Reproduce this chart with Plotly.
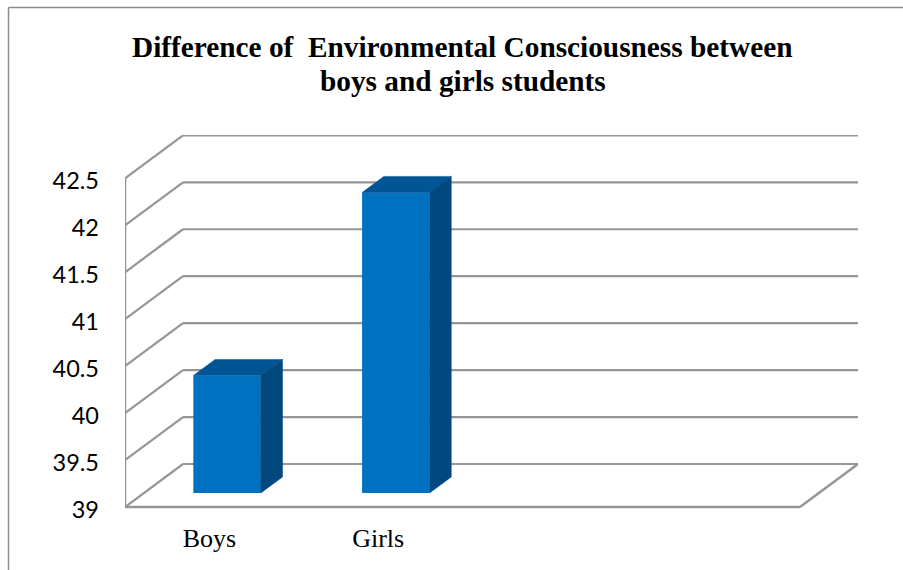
import plotly.graph_objects as go

# Chart values
categories = ["Boys", "Girls"]
scores = [40.25, 42.2]
tick_values = [39, 39.5, 40, 40.5, 41, 41.5, 42, 42.5]
tick_labels = ["39", "39.5", "40", "40.5", "41", "41.5", "42", "42.5"]
title_lines = ["Difference of  Environmental Consciousness between", "boys and girls students"]

# Pseudo-3D geometry, in axis units
AXIS_MIN = 39
SLOTS = 4
PX_PER_SLOT = 168.75
PX_PER_UNIT = 93.9
WALL_DX = 58 / PX_PER_SLOT
WALL_DY = 43 / PX_PER_UNIT
BAR_WIDTH = 0.4
BAR_NUDGE = -1.2 / PX_PER_SLOT
DEPTH_NEAR = 0.326
DEPTH_FAR = 0.70
LABEL_DROP = 2.5 / PX_PER_UNIT

# The plot area runs a little below the floor so the lowest tick label still shows
LEFT, RIGHT, TOP, BOTTOM = 125, 858, 135, 515
AXIS_FLOOR = AXIS_MIN - 8 / PX_PER_UNIT
WIDTH, HEIGHT = 903, 570

GRID = "#969696"
FRONT = "#0070c0"
ROOF = "#005594"
SIDE = "#00487e"


def at_depth(slot, value, depth):
    return slot + WALL_DX * depth, value + WALL_DY * depth


fig = go.Figure()

# Gridlines: sloped floor/side part plus the run across the back wall
shapes = []
for v in tick_values:
    x0, y0 = at_depth(0, v, 0)
    x1, y1 = at_depth(0, v, 1)
    x2, y2 = at_depth(SLOTS, v, 1)
    shapes.append(dict(type="line", layer="below", xref="x", yref="y", x0=x0, y0=y0, x1=x1, y1=y1,
                       line=dict(color=GRID, width=2.2)))
    shapes.append(dict(type="line", layer="below", xref="x", yref="y", x0=x1, y0=y1, x1=x2, y1=y2,
                       line=dict(color=GRID, width=2.2)))

# Left axis, front floor edge and right floor edge
top_tick = tick_values[-1]
for (a, b) in [
    (at_depth(0, AXIS_MIN, 0), at_depth(0, top_tick, 0)),
    (at_depth(0, AXIS_MIN, 0), at_depth(SLOTS, AXIS_MIN, 0)),
    (at_depth(SLOTS, AXIS_MIN, 0), at_depth(SLOTS, AXIS_MIN, 1)),
]:
    shapes.append(dict(type="line", layer="below", xref="x", yref="y", x0=a[0], y0=a[1], x1=b[0], y1=b[1],
                       line=dict(color=GRID, width=2.5)))

# Outer chart border, open on the right and at the bottom
for x0, y0, x1, y1 in [(8.5, 7.5, 8.5, 570), (8.5, 7.5, 903, 7.5)]:
    shapes.append(dict(type="line", xref="paper", yref="paper",
                       x0=(x0 - LEFT) / (RIGHT - LEFT), x1=(x1 - LEFT) / (RIGHT - LEFT),
                       y0=(BOTTOM - y0) / (BOTTOM - TOP), y1=(BOTTOM - y1) / (BOTTOM - TOP),
                       line=dict(color="#8c8c8c", width=1.5)))

# Front faces of the columns
slots = [i + 0.5 for i in range(len(categories))]
bar_slots = [s + BAR_NUDGE for s in slots]
near_dx = WALL_DX * DEPTH_NEAR
near_dy = WALL_DY * DEPTH_NEAR
fig.add_trace(go.Bar(
    x=[s + near_dx for s in bar_slots],
    y=[v - AXIS_MIN for v in scores],
    base=AXIS_MIN + near_dy,
    width=BAR_WIDTH,
    marker=dict(color=FRONT, line=dict(width=0)),
    hoverinfo="skip",
    showlegend=False,
))

# Roof and side faces of the columns
for s, v in zip(bar_slots, scores):
    l, r = s - BAR_WIDTH / 2, s + BAR_WIDTH / 2
    roof = [at_depth(l, v, DEPTH_NEAR), at_depth(r, v, DEPTH_NEAR), at_depth(r, v, DEPTH_FAR), at_depth(l, v, DEPTH_FAR)]
    side = [at_depth(r, AXIS_MIN, DEPTH_NEAR), at_depth(r, v, DEPTH_NEAR), at_depth(r, v, DEPTH_FAR), at_depth(r, AXIS_MIN, DEPTH_FAR)]
    for poly, colour in ((roof, ROOF), (side, SIDE)):
        fig.add_trace(go.Scatter(
            x=[p[0] for p in poly] + [poly[0][0]],
            y=[p[1] for p in poly] + [poly[0][1]],
            mode="lines", fill="toself", fillcolor=colour,
            line=dict(color=colour, width=0.5),
            hoverinfo="skip", showlegend=False,
        ))

# Title lines sit closer together than the default line height allows
title_font = dict(family="Liberation Serif", size=29.3, color="black")
title_notes = [
    dict(text="<b>%s</b>" % line, xref="paper", yref="paper", showarrow=False,
         x=(462.5 - LEFT) / (RIGHT - LEFT), y=(BOTTOM - mid) / (BOTTOM - TOP),
         xanchor="center", yanchor="middle", font=title_font)
    for line, mid in zip(title_lines, (46.5, 80.5))
]

fig.update_layout(
    width=WIDTH, height=HEIGHT,
    margin=dict(l=LEFT, r=WIDTH - RIGHT, t=TOP, b=HEIGHT - BOTTOM, autoexpand=False),
    paper_bgcolor="white", plot_bgcolor="rgba(0,0,0,0)",
    shapes=shapes,
    annotations=title_notes,
    xaxis=dict(
        range=[0, (RIGHT - LEFT) / PX_PER_SLOT],
        tickmode="array", tickvals=slots, ticktext=categories,
        showgrid=False, zeroline=False, showline=False,
        ticks="", ticklabelstandoff=5,
        tickfont=dict(family="Liberation Serif", size=26, color="black"),
    ),
    yaxis=dict(
        range=[AXIS_FLOOR, AXIS_FLOOR + (BOTTOM - TOP) / PX_PER_UNIT],
        tickmode="array", tickvals=[v - LABEL_DROP for v in tick_values], ticktext=tick_labels,
        showgrid=False, zeroline=False, showline=False,
        ticks="", ticklabelstandoff=25,
        tickfont=dict(family="Lato", size=23.5, color="black"),
    ),
)

fig.write_html("out.html", config=dict(displayModeBar=False))
